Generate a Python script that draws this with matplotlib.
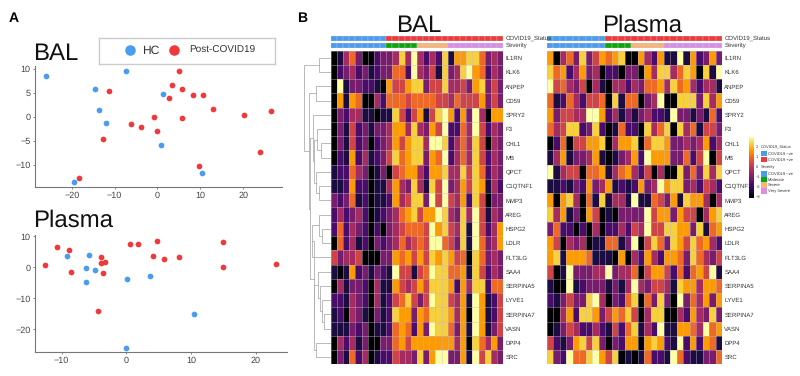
import numpy as np
import matplotlib
matplotlib.use("Agg")
import matplotlib.pyplot as plt
from matplotlib.colors import Normalize
from matplotlib.cm import ScalarMappable

plt.rcParams["font.family"] = ["Liberation Sans", "DejaVu Sans"]
plt.rcParams["text.hinting"] = "none"
plt.rcParams["text.hinting_factor"] = 1

W, H = 800, 376
BLUE, RED = "#4a9cf0", "#ee3a3c"
GREEN, ORANGE, PURPLE = "#0aa60a", "#f7b57a", "#d98fe8"

# ---------- scatter data ----------
bal_hc_x = [-26.1, -7.3, -14.6, 1.2, -13.7, -12, 0.9, 10.3, -19.5]
bal_hc_y = [8.4, 9.6, 5.7, 4.7, 1.45, -1.2, -5.9, -11.7, -13.5]
bal_post_x = [5, 3.3, 5.7, -11.4, 2.7, 8.3, 10.6, 12.9, 20.2, 26.4, -0.8, 5.8, -6.1, -3.8, -0.1, -12.6, 24, 9.7, -18.4]
bal_post_y = [9.5, 6.6, 5.8, 5.4, 4, 4.5, 4.6, 1.65, 0.4, 1.3, -0.1, -0.3, -1.4, -2, -3, -4.6, -7.3, -10.1, -12.6]
plasma_hc_x = [-9.2, -5.7, -6.2, -4.8, -6.2, 0.1, 3.7, 10.5, 0]
plasma_hc_y = [3.7, 4.1, -0.3, -1, -4.9, -3.7, -2.9, -15, -25.9]
plasma_post_x = [-10.7, -8.8, -12.5, -8.5, -3.9, -3.9, -3.3, -3.6, -4.4, 0.6, 1.8, 4.7, 4.2, 5.8, 8.1, 14.9, 15, 23.1]
plasma_post_y = [6.6, 5.6, 0.8, -1.6, 3.3, 1.4, 1.7, -1.7, -14.1, 7.5, 7.5, 8.4, 3.5, 2.7, 3.2, 8.2, 0.1, 1]

# ---------- heatmap data (colour levels, 0 = darkest, 9 = palest) ----------
genes = ["IL1RN", "KLK6", "ANPEP", "CD59", "SPRY2", "F3", "CHL1", "MB", "QPCT", "C1QTNF1", "MMP3",
         "AREG", "HSPG2", "LDLR", "FLT3LG", "SAA4", "SERPINA5", "LYVE1", "SERPINA7", "VASN", "DPP4", "SRC"]

bal_il1rn = [0,1,4,6,3,0,0,2,3, 3,4,8,4,9, 4,2,4,2,8, 1,7,7,8,8,6,3,4,3]
bal_klk6 = [0,2,3,4,2,3,1,2,3, 3,6,6,2,9, 4,3,5,1,8, 3,4,8,9,7,6,2,4,3]
bal_anpep = [0,9,1,3,3,2,2,1,0, 7,5,5,7,8, 8,3,5,5,8, 4,4,5,3,7,8,3,5,3]
bal_cd59 = [0,7,1,7,6,0,0,4,2, 6,6,6,5,6, 6,6,6,5,5, 4,6,5,5,5,7,3,5,3]
bal_spry2 = [0,3,2,4,4,1,1,0,1, 1,8,5,2,5, 7,1,5,8,9, 7,2,7,3,9,4,0,7,7]
bal_f3 = [0,3,1,5,2,3,1,3,3, 4,7,7,4,8, 4,3,7,5,9, 2,2,6,4,9,5,2,4,3]
bal_chl1 = [0,3,1,5,2,3,0,2,3, 4,7,5,7,8, 8,4,9,9,8, 2,4,6,4,8,5,0,4,3]
bal_mb = [0,2,1,7,2,4,1,2,3, 5,8,6,7,8, 8,3,7,6,9, 2,4,6,4,8,5,2,4,3]
bal_qpct = [1,2,2,6,4,3,0,1,3, 0,5,6,7,7, 4,2,7,7,8, 4,4,8,5,8,6,2,4,3]
bal_c1qtnf1 = [1,1,2,7,2,2,0,1,1, 4,7,4,3,8, 4,1,8,5,9, 3,4,7,5,8,7,1,4,2]
bal_mmp3 = [3,2,3,6,1,2,0,1,1, 2,7,4,5,8, 8,3,9,5,9, 5,4,7,2,8,5,0,3,3]
bal_areg = [2,4,2,3,4,2,0,1,2, 3,4,6,7,8, 5,7,7,9,8, 4,3,8,4,9,5,1,4,3]
bal_hspg2 = [2,6,2,4,3,2,0,2,0, 3,4,5,6,6, 6,5,9,7,8, 5,4,8,1,9,5,2,4,7]
bal_ldlr = [0,6,2,4,1,2,0,3,2, 3,4,6,4,5, 6,5,9,9,6, 5,3,8,1,9,6,3,4,7]
bal_flt3lg = [5,3,4,4,5,0,0,0,3, 3,7,6,7,5, 7,5,8,7,8, 7,5,6,0,8,6,3,4,3]
bal_saa4 = [1,0,1,7,2,3,1,3,2, 1,9,5,5,1, 5,6,9,8,8, 6,6,7,1,8,5,2,4,3]
bal_serpina5 = [0,4,1,3,3,2,0,4,1, 1,7,5,4,5, 7,5,8,8,8, 7,2,7,4,8,8,2,6,6]
bal_lyve1 = [2,2,1,4,3,2,0,4,1, 2,5,6,8,5, 3,5,9,8,8, 5,4,7,1,9,7,1,2,5]
bal_serpina7 = [1,2,0,4,3,1,0,3,1, 2,8,7,7,3, 7,6,8,8,8, 7,4,7,0,9,7,1,2,5]
bal_vasn = [1,1,1,3,2,3,0,1,1, 2,6,7,6,2, 7,3,9,8,8, 6,3,7,1,9,7,1,3,5]
bal_dpp4 = [0,4,2,4,1,3,0,0,3, 3,6,7,5,7, 7,7,7,7,7, 7,4,7,0,8,6,4,7,3]
bal_src = [0,3,1,6,2,4,0,1,2, 2,5,4,4,3, 8,3,7,9,9, 3,3,7,1,9,5,8,4,3]

plasma_il1rn = [7,0,4,6,3,8,3,5,7, 6,7,8,0, 0,7,4,2,7, 1,1,9,1,7,2,3,7,3]
plasma_klk6 = [8,6,7,2,4,7,3,4,0, 2,2,0,3, 3,0,7,4,8, 8,4,6,8,7,0,8,1,9]
plasma_anpep = [9,5,6,4,3,5,0,4,1, 0,4,4,2, 4,3,6,6,7, 4,8,6,7,4,2,4,4,1]
plasma_cd59 = [6,1,2,6,4,2,5,5,6, 0,8,1,6, 6,0,3,4,9, 0,0,8,8,8,3,8,4,7]
plasma_spry2 = [7,3,5,5,4,4,9,9,7, 2,4,1,3, 1,3,4,2,2, 1,9,3,3,1,3,1,6,2]
plasma_f3 = [6,4,5,8,8,2,3,8,2, 0,1,6,2, 2,0,8,4,6, 8,0,8,4,6,1,5,5,3]
plasma_chl1 = [0,2,6,0,5,5,7,7,8, 0,4,7,7, 8,0,6,8,8, 7,3,3,4,3,4,7,2,4]
plasma_mb = [1,4,7,1,3,3,4,7,1, 0,1,3,4, 7,2,9,7,7, 7,3,3,6,2,5,9,0,5]
plasma_qpct = [9,1,4,5,5,0,6,6,7, 1,4,6,7, 4,2,5,0,4, 0,0,8,3,6,3,8,4,8]
plasma_c1qtnf1 = [1,1,2,1,3,2,7,3,4, 7,1,2,1, 2,7,3,4,9, 7,8,8,3,4,2,5,4,2]
plasma_mmp3 = [7,0,7,8,4,0,6,1,8, 1,4,4,1, 9,1,1,6,5, 3,7,1,8,7,7,4,0,4]
plasma_areg = [8,4,7,1,3,0,7,5,0, 1,0,3,3, 3,3,9,5,7, 7,3,7,5,5,0,4,7,8]
plasma_hspg2 = [3,6,2,2,0,2,0,4,0, 2,2,4,2, 5,4,9,5,5, 8,8,7,7,3,8,1,6,7]
plasma_ldlr = [7,5,0,4,3,4,0,1,1, 6,6,1,3, 9,0,5,8,6, 3,8,7,5,8,6,7,4,2]
plasma_flt3lg = [7,8,1,7,7,7,6,1,1, 1,0,7,0, 4,2,7,4,2, 7,7,6,3,8,6,4,3,5]
plasma_saa4 = [5,0,1,9,3,3,3,4,4, 9,3,4,4, 6,0,5,7,7, 5,2,6,2,6,7,5,9,1]
plasma_serpina5 = [1,0,0,9,1,2,3,3,3, 1,3,1,4, 9,4,3,5,5, 4,1,8,7,7,4,7,7,6]
plasma_lyve1 = [2,1,3,5,3,3,8,9,4, 0,3,2,6, 8,0,6,3,8, 3,0,9,3,6,4,7,3,7]
plasma_serpina7 = [0,0,4,7,2,8,8,7,3, 5,7,6,8, 5,0,4,8,8, 0,0,4,2,7,4,3,8,3]
plasma_vasn = [0,1,3,5,4,2,2,4,2, 1,5,2,6, 8,1,4,2,9, 1,1,7,7,6,4,9,6,7]
plasma_dpp4 = [5,2,1,3,7,8,5,8,3, 0,3,2,7, 7,0,7,8,7, 2,1,9,2,7,2,7,6,1]
plasma_src = [8,3,2,9,6,6,8,9,7, 5,8,0,1, 0,1,6,2,2, 1,9,6,2,1,1,3,3,6]

bal_rows = [bal_il1rn, bal_klk6, bal_anpep, bal_cd59, bal_spry2, bal_f3, bal_chl1, bal_mb, bal_qpct, bal_c1qtnf1,
            bal_mmp3, bal_areg, bal_hspg2, bal_ldlr, bal_flt3lg, bal_saa4, bal_serpina5, bal_lyve1, bal_serpina7,
            bal_vasn, bal_dpp4, bal_src]
plasma_rows = [plasma_il1rn, plasma_klk6, plasma_anpep, plasma_cd59, plasma_spry2, plasma_f3, plasma_chl1, plasma_mb,
               plasma_qpct, plasma_c1qtnf1, plasma_mmp3, plasma_areg, plasma_hspg2, plasma_ldlr, plasma_flt3lg,
               plasma_saa4, plasma_serpina5, plasma_lyve1, plasma_serpina7, plasma_vasn, plasma_dpp4, plasma_src]

# group sizes per column annotation: HC, Moderate, Severe, Very Severe
bal_groups = [9, 5, 5, 9]
plasma_groups = [9, 4, 5, 9]

# dendrogram: (merge height in px from the heatmap's left side, left child, right child); ints are rows
dendrogram = (26.4,
    (11.5, 0, 1),
    (22,
        (14.5, 2, 3),
        (20.5,
            (17.5, 4,
                (16.5,
                    (13.5, 5, (9.5, 6, 7)),
                    (14.5, 8, (12, 9, 10)))),
            (16.5,
                (18.5, (11.5, 11, (8.5, 12, 13)), 14),
                (16.5,
                    (13, 15, (10.5, 16, (8.5, 17, (7, 18, 19)))),
                    (14.5, 20, 21))))))

def ax_px(x0, y0, x1, y1):
    return fig.add_axes([x0 / W, 1 - y1 / H, (x1 - x0) / W, (y1 - y0) / H])

fig = plt.figure(figsize=(W / 100, H / 100), dpi=100, facecolor="white")

def scatter_panel(box, hx, hy, px, py, xlim, ylim, xt, yt):
    ax = ax_px(*box)
    ax.scatter(hx, hy, s=17, color=BLUE, linewidths=0, clip_on=False, zorder=3)
    ax.scatter(px, py, s=17, color=RED, linewidths=0, clip_on=False, zorder=3)
    ax.set_xlim(xlim); ax.set_ylim(ylim)
    ax.set_xticks(xt); ax.set_yticks(yt)
    ax.spines[["top", "right"]].set_visible(False)
    ax.spines[["left", "bottom"]].set_color("#777777")
    ax.spines[["left", "bottom"]].set_linewidth(0.8)
    ax.tick_params(labelsize=6.2, length=1.5, width=0.6, pad=1.5, color="#777777", labelcolor="#444444")
    return ax

scatter_panel((34.5, 66, 281.7, 187.3), bal_hc_x, bal_hc_y, bal_post_x, bal_post_y,
              (-28.7, 29), (-14.6, 10.55), [-20, -10, 0, 10, 20], [-10, -5, 0, 5, 10])
scatter_panel((34.5, 235, 286.7, 352.3), plasma_hc_x, plasma_hc_y, plasma_post_x, plasma_post_y,
              (-14.2, 24.8), (-27.4, 10.4), [-10, 0, 10, 20], [-20, -10, 0, 10])

fig.text(33 / W, 1 - 59.5 / H, "BAL", fontsize=17, color="#111111", va="baseline")
fig.text(33 / W, 1 - 226.5 / H, "Plasma", fontsize=17, color="#111111", va="baseline")
fig.text(8.5 / W, 1 - 22 / H, "A", fontsize=10, fontweight="bold", va="baseline")
fig.text(297 / W, 1 - 22 / H, "B", fontsize=10, fontweight="bold", va="baseline")

# legend box, laid out in its own pixel-sized axes
box = ax_px(99, 37.5, 275, 64)
box.set_xlim(99, 275); box.set_ylim(64, 37.5)
box.set_xticks([]); box.set_yticks([])
for s in box.spines.values():
    s.set_color("#cccccc"); s.set_linewidth(1.0)
box.plot([130], [50], "o", ms=7.6, color=BLUE, mec="none")
box.plot([174], [50], "o", ms=7.6, color=RED, mec="none")
box.text(142, 50.3, "HC", fontsize=8.3, va="center", color="#333333")
box.text(189, 50.3, "Post-COVID19", fontsize=7.3, va="center", color="#333333")

# ---------- heatmaps ----------
cmap = plt.get_cmap("inferno")
vmin, vmax = -3.1, 3.0
norm = Normalize(vmin, vmax)
HM_TOP, HM_BOT = 50.7, 364.3

def heatmap(x0, x1, rows, groups, title, title_x):
    z = vmin + np.array(rows, dtype=float) * (vmax - vmin) / 9
    ax = ax_px(x0, HM_TOP, x1, HM_BOT)
    ax.pcolormesh(z, cmap=cmap, norm=norm)
    ax.set_ylim(len(rows), 0)
    ax.set_xlim(0, z.shape[1])
    ax.set_xticks([])
    ax.set_yticks(np.arange(len(rows)) + 0.5, genes)
    ax.yaxis.tick_right()
    ax.tick_params(length=0, labelsize=4.0, pad=1.5, labelcolor="#333333")
    ax.set_xticks(np.arange(z.shape[1] + 1), minor=True)
    ax.set_yticks(np.arange(z.shape[0] + 1), minor=True)
    ax.tick_params(which="minor", length=0)
    ax.grid(which="minor", color="#c8b8c4", lw=0.5, alpha=0.6)
    ax.set_axisbelow(False)
    for s in ax.spines.values():
        s.set_visible(False)
    n = z.shape[1]
    status = [BLUE] * groups[0] + [RED] * (n - groups[0])
    sev = [BLUE] * groups[0] + [GREEN] * groups[1] + [ORANGE] * groups[2] + [PURPLE] * groups[3]
    for (y0, y1, cols) in ((35.7, 41.3, status), (42.7, 48.3, sev)):
        a = ax_px(x0, y0, x1, y1)
        a.bar(np.arange(n), np.ones(n), width=1, align="edge", color=cols, edgecolor="#c9c9c9", linewidth=0.25)
        a.set_xlim(0, n); a.set_ylim(0, 1); a.axis("off")
    fig.text(title_x / W, 1 - 31.7 / H, title, fontsize=17.5, ha="center", va="baseline", color="#111111")
    for y, lab in ((38.5, "COVID19_Status"), (45.5, "Severity")):
        fig.text((x1 + 2) / W, 1 - y / H, lab, fontsize=4.0, va="center", color="#333333")
    return ax

heatmap(330.7, 503.3, bal_rows, bal_groups, "BAL", 419)
heatmap(546.7, 722.3, plasma_rows, plasma_groups, "Plasma", 642)

# ---------- dendrogram ----------
dax = ax_px(303, HM_TOP, 330.7, HM_BOT)
dax.set_xlim(27.7, 0); dax.set_ylim(22, 0); dax.axis("off")

def draw(node):
    if isinstance(node, int):
        return 0.0, node + 0.5
    h, a, b = node
    xa, ya = draw(a)
    xb, yb = draw(b)
    dax.plot([xa, h, h, xb], [ya, ya, yb, yb], color="#a8a8a8", lw=0.55, solid_joinstyle="miter")
    return h, (ya + yb) / 2

draw(dendrogram)

# ---------- colour bar and legend ----------
cax = ax_px(749.3, 137, 753.7, 198)
cb = fig.colorbar(ScalarMappable(norm=norm, cmap=cmap), cax=cax)
cb.set_ticks([-3, -2, -1, 0, 1, 2])
cb.ax.tick_params(labelsize=3.0, length=0, pad=1.5, labelcolor="#333333")
cb.outline.set_visible(False)

lax = ax_px(755, 140, 800, 198)
lax.set_xlim(755, 800); lax.set_ylim(198, 140); lax.axis("off")
legend_titles = ["COVID19_Status", "Severity"]
legend_title_y = [147.5, 167.5]
legend_labels = ["COVID19 \u2212ve", "COVID19 +ve", "COVID19 \u2212ve", "Moderate", "Severe", "Very Severe"]
legend_colors = [BLUE, RED, BLUE, GREEN, ORANGE, PURPLE]
legend_y = [153.5, 159.5, 174, 179.6, 185.2, 191.2]
for lab, y in zip(legend_titles, legend_title_y):
    lax.text(761, y, lab, fontsize=3.0, va="center", color="#333333")
for lab, c, y in zip(legend_labels, legend_colors, legend_y):
    lax.bar(763.8, 5.5, bottom=y - 2.75, width=5.6, color=c, linewidth=0)
    lax.text(768, y, lab, fontsize=3.0, va="center", color="#333333")

fig.savefig("out.png", dpi=100, facecolor="white")
